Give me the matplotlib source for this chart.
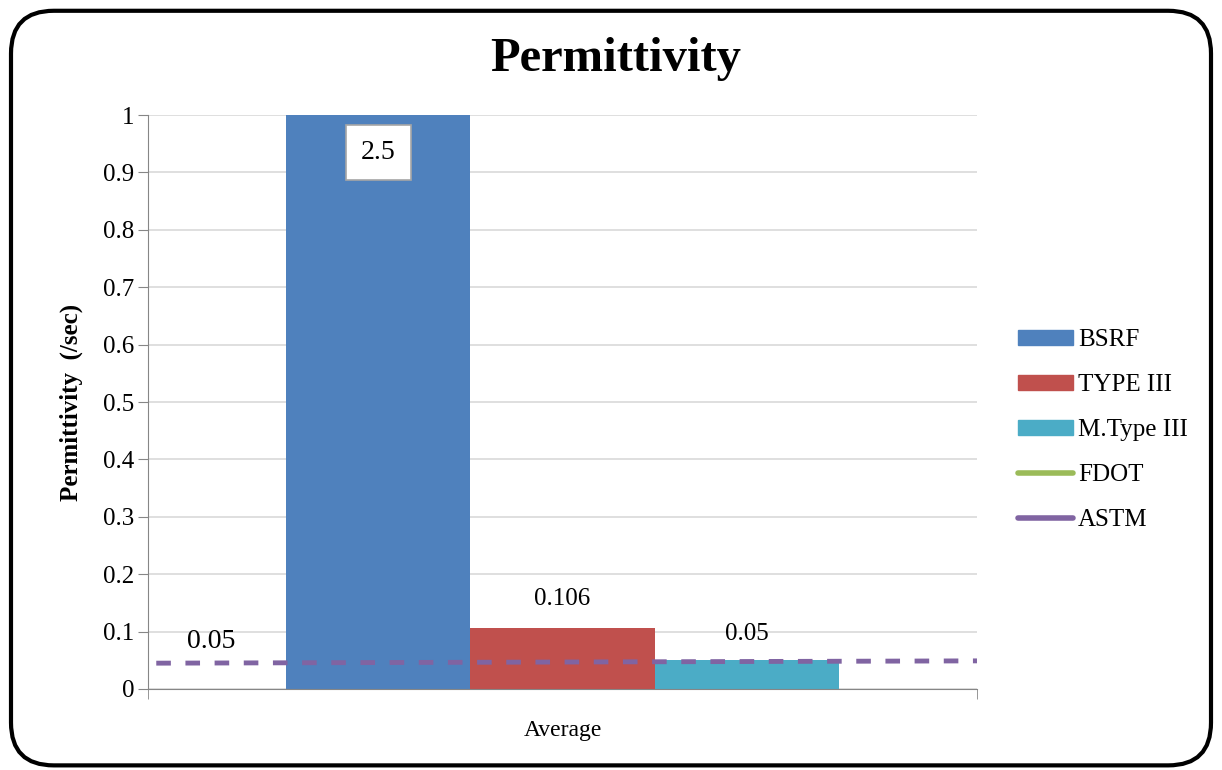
import matplotlib.pyplot as plt
import numpy as np
from matplotlib.patches import FancyBboxPatch, Patch
from matplotlib.lines import Line2D

plt.rcParams['font.family'] = ['Liberation Serif', 'DejaVu Serif']

category = ['Average']
series = ['BSRF', 'TYPE III', 'M.Type III']
values = [2.5, 0.106, 0.05]
labels = ['2.5', '0.106', '0.05']
colors = ['#4f81bd', '#c0504d', '#4bacc6']

# reference lines, one value at each end of the axis
astm = [0.045, 0.049]
fdot = [np.nan, np.nan]

fig = plt.figure(figsize=(12.22, 7.7), dpi=100)
ax = fig.add_axes([0.1211, 0.1052, 0.6784, 0.7454])

width = 0.222
offsets = [-width, 0, width]
for name, v, c, off in zip(series, values, colors, offsets):
    ax.bar(off, v, width, color=c, zorder=2)

ax.set_xlim(-0.5, 0.5)
ax.set_ylim(0, 1)
ax.plot([-0.49, 0.5], fdot, color='#9bbb59', lw=3.5, zorder=3)
ax.plot([-0.49, 0.5], astm, color='#8064a2', lw=3.5, dashes=(3, 3), zorder=3)

# data labels
ax.text(offsets[0], 0.935, labels[0], ha='center', va='center', fontsize=20,
        bbox=dict(boxstyle='square,pad=0.55', fc='white', ec='#a6a6a6', lw=1.2), zorder=4)
ax.text(offsets[1], values[1] + 0.05, labels[1], ha='center', va='center', fontsize=18)
ax.text(offsets[2], values[2] + 0.046, labels[2], ha='center', va='center', fontsize=18)
ax.text(-0.424, astm[0] + 0.037, '0.05', ha='center', va='center', fontsize=20)

ax.set_yticks(np.arange(0, 1.01, 0.1))
ax.set_yticklabels(['0'] + ['%.1f' % t for t in np.arange(0.1, 0.95, 0.1)] + ['1'])
ax.set_xticks([0])
ax.set_xticklabels(category)
ax.tick_params(axis='y', labelsize=18, length=7, color='#868686', pad=3)
ax.tick_params(axis='x', labelsize=17, length=0, pad=22)
ax.set_xticks([-0.5, 0.5], minor=True)
ax.tick_params(axis='x', which='minor', length=7, color='#868686')

ax.grid(axis='y', color='#d9d9d9', lw=1.2, zorder=0)
ax.set_axisbelow(True)
for s in ['top', 'right']:
    ax.spines[s].set_visible(False)
for s in ['left', 'bottom']:
    ax.spines[s].set_color('#868686')

ax.set_ylabel('Permittivity  (/sec)', fontsize=18, fontweight='bold', labelpad=14)
fig.text(0.504, 0.923, 'Permittivity', ha='center', va='center', fontsize=35, fontweight='bold')

handles = [Patch(color=c) for c in colors] + [
    Line2D([], [], color='#9bbb59', lw=4, solid_capstyle='round'),
    Line2D([], [], color='#8064a2', lw=4, solid_capstyle='round')]
fig.legend(handles, series + ['FDOT', 'ASTM'], loc='center left',
           bbox_to_anchor=(0.8145, 0.4416), frameon=False, fontsize=18,
           handlelength=2.2, handleheight=0.55, labelspacing=0.92, handletextpad=0.2)

border = FancyBboxPatch((0.009, 0.006), 0.982, 0.98, boxstyle='round,pad=0,rounding_size=0.035',
                        transform=fig.transFigure, fill=False, ec='black', lw=3,
                        mutation_aspect=1222 / 770)
fig.patches.append(border)

fig.savefig('out.png', dpi=100)
